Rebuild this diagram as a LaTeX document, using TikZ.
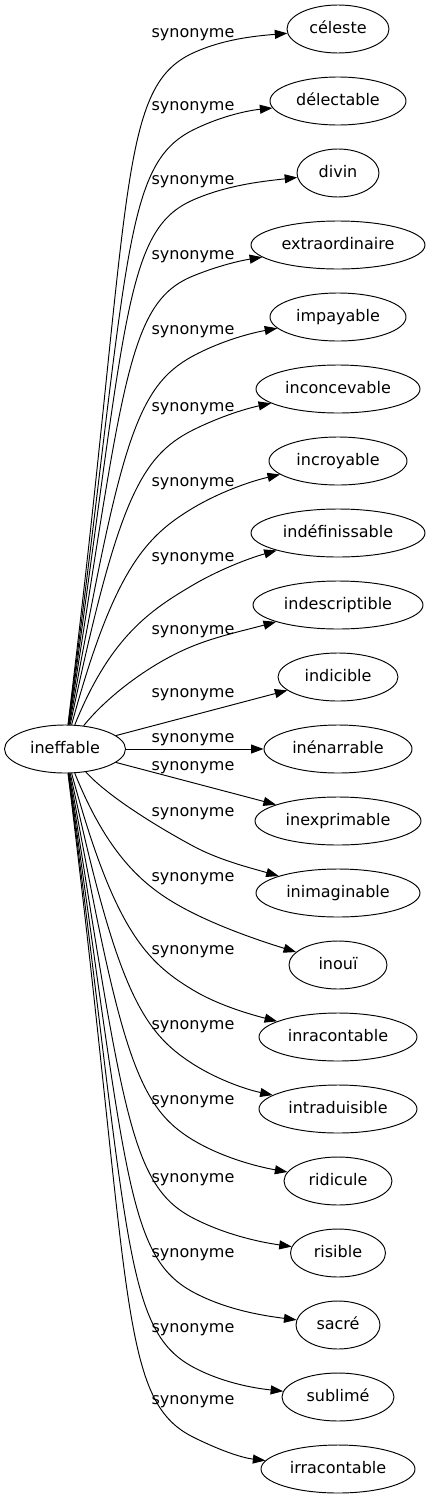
\documentclass[tikz,border=0pt]{standalone}
\usepackage{fontspec}
\setmainfont{DejaVu Sans}
\usetikzlibrary{shapes.geometric,arrows.meta}
\tikzset{
  word/.style={ellipse, draw, line width=0.95pt, inner sep=0pt, minimum height=48pt,
    font=\fontsize{16}{19}\selectfont, text height=11.5pt, text depth=3.5pt},
  lab/.style={inner sep=0pt, font=\fontsize{16}{19}\selectfont, text height=11.5pt, text depth=3.5pt},
  edge/.style={line width=0.95pt, -{Triangle[length=12.5pt,width=9pt]}}
}
\begin{document}
\begin{tikzpicture}[x=1pt,y=-1pt]
\useasboundingbox (0,0) rectangle (431,1499);
\node[word, minimum width=121pt] (ineffable) at (65,749) {ineffable};
\node[word, minimum width=102pt] (celeste) at (338,29) {céleste};
\node[word, minimum width=136pt] (delectable) at (338,101) {délectable};
\node[word, minimum width=82pt] (divin) at (338,173) {divin};
\node[word, minimum width=174pt] (extra) at (338,245) {extraordinaire};
\node[word, minimum width=136pt] (impayable) at (338,317) {impayable};
\node[word, minimum width=164pt] (inconcevable) at (338,389) {inconcevable};
\node[word, minimum width=138pt] (incroyable) at (338,461) {incroyable};
\node[word, minimum width=174pt] (indefinissable) at (338,533) {indéfinissable};
\node[word, minimum width=170pt] (indescriptible) at (338,605) {indescriptible};
\node[word, minimum width=120pt] (indicible) at (338,677) {indicible};
\node[word, minimum width=148pt] (inenarrable) at (338,749) {inénarrable};
\node[word, minimum width=166pt] (inexprimable) at (338,821) {inexprimable};
\node[word, minimum width=164pt] (inimaginable) at (338,893) {inimaginable};
\node[word, minimum width=98pt] (inoui) at (338,965) {inouï};
\node[word, minimum width=158pt] (inracontable) at (338,1037) {inracontable};
\node[word, minimum width=158pt] (intraduisible) at (338,1109) {intraduisible};
\node[word, minimum width=108pt] (ridicule) at (338,1181) {ridicule};
\node[word, minimum width=95pt] (risible) at (338,1253) {risible};
\node[word, minimum width=84pt] (sacre) at (338,1325) {sacré};
\node[word, minimum width=112pt] (sublime) at (338,1397) {sublimé};
\node[word, minimum width=154pt] (irracontable) at (338,1469) {irracontable};
\foreach \ly [count=\i] in {33,106,180,255,330,407,482,557,630,693,738,766,812,877,950,1025,1100,1178,1253,1328,1400}
  \node[lab] (lab\i) at (193,\ly) {synonyme};
\foreach \n/\My/\sM/\sA/\tx/\ty in {
  celeste/53/-0.46/-0.125/287/32,
  delectable/130/-0.5/-0.19/270/106,
  divin/200/-0.44/-0.18/297/175,
  extra/276/-0.41/-0.29/258/255,
  impayable/356/-0.54/-0.26/273/327,
  inconcevable/430/-0.5/-0.3/267/402,
  incroyable/508/-0.6/-0.31/277/473,
  indefinissable/585/-0.59/-0.34/273/550,
  indescriptible/646/-0.4/-0.29/270/623,
  inimaginable/846/0.54/0.34/277/877,
  inoui/913/0.5/0.38/292/953,
  inracontable/990/0.6/0.4/270/1023,
  intraduisible/1064/0.64/0.33/268/1097,
  ridicule/1140/0.6/0.29/285/1175,
  risible/1218/0.52/0.25/290/1250,
  sacre/1292/0.54/0.22/295/1323,
  sublime/1367/0.54/0.2/282/1394,
  irracontable/1437/0.5/0.33/262/1465}{
  \pgfmathsetmacro{\sg}{(\My>749)?1:-1}
  \pgfmathsetmacro{\dd}{abs(\My-749)}
  \pgfmathsetmacro{\h}{0.8*\dd-3000/\dd}
  \pgfmathsetmacro{\cax}{105+0.05*\h}
  \pgfmathsetmacro{\cay}{749+\sg*\h}
  \pgfmathsetmacro{\Lb}{40+0.08*\h}
  \pgfmathsetmacro{\nm}{sqrt(1+(\sM)*(\sM))}
  \pgfmathsetmacro{\cbx}{193-\Lb/\nm}
  \pgfmathsetmacro{\cby}{\My-\Lb*(\sM)/\nm}
  \pgfmathsetmacro{\Lc}{0.35*(\tx-193)}
  \pgfmathsetmacro{\ccx}{193+\Lc/\nm}
  \pgfmathsetmacro{\ccy}{\My+\Lc*(\sM)/\nm}
  \pgfmathsetmacro{\na}{sqrt(1+(\sA)*(\sA))}
  \pgfmathsetmacro{\cdx}{\tx-\Lc/\na}
  \pgfmathsetmacro{\cdy}{\ty-\Lc*(\sA)/\na}
  \coordinate (m\n) at (193,\My);
  \draw[edge] (ineffable) .. controls (\cax,\cay) and (\cbx,\cby) .. (m\n)
    .. controls (\ccx,\ccy) and (\cdx,\cdy) .. (\n);
}
\draw[edge] (ineffable) -- (indicible);
\draw[edge] (ineffable) -- (inenarrable);
\draw[edge] (ineffable) -- (inexprimable);
\end{tikzpicture}
\end{document}
